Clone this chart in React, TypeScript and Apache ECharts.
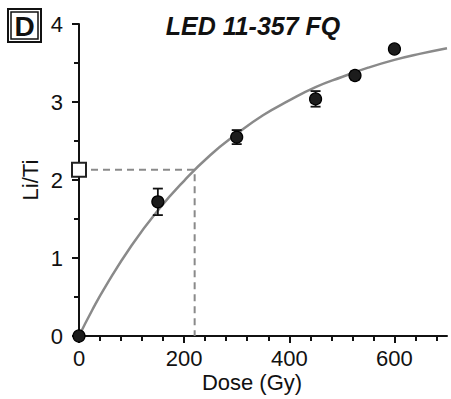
import React, { useEffect, useRef } from "react";
import * as echarts from "echarts";

// Measured Li/Ti ratios with their error bars
const doses = [0, 150, 300, 450, 525, 600];
const ratios = [0, 1.72, 2.55, 3.04, 3.34, 3.68];
const errors = [0, 0.17, 0.09, 0.1, 0.05, 0.03];

// Fitted dose-response curve
const curveDose = [0, 25, 50, 100, 150, 200, 250, 300, 350, 400, 450, 500, 550, 600, 650, 700];
const curveRatio = [0, 0.33, 0.63, 1.16, 1.61, 1.99, 2.32, 2.59, 2.83, 3.02, 3.19, 3.32, 3.44, 3.54, 3.62, 3.69];

// Natural signal projected onto the curve
const naturalRatio = 2.13;
const equivalentDose = 220;

const xMajorTicks = [0, 200, 400, 600];
const xMinorTicks = [40, 80, 120, 160, 240, 280, 320, 360, 440, 480, 520, 560, 640, 680];
const yMajorTicks = [0, 1, 2, 3, 4];
const yMinorTicks = [0.5, 1.5, 2.5, 3.5];

const FONT = "'Liberation Sans', Arial, sans-serif";
const INK = "#111111";

export default function App() {
  const ref = useRef<HTMLDivElement>(null);

  useEffect(() => {
    if (!ref.current) return;
    const chart = echarts.init(ref.current, null, { renderer: "svg" });

    const axisLine = { lineStyle: { color: INK, width: 2 } };
    const baseX = { type: "value", min: 0, max: 700, splitLine: { show: false } };
    const baseY = { type: "value", min: 0, max: 4, interval: 1, splitLine: { show: false } };

    chart.setOption({
      animation: false,
      backgroundColor: "#ffffff",
      grid: { left: 79, right: 4, top: 24, bottom: 63 },
      xAxis: [
        {
          ...baseX,
          axisLine,
          axisTick: { customValues: xMajorTicks, length: 7, lineStyle: { color: INK, width: 2 } },
          axisLabel: {
            customValues: xMajorTicks,
            margin: 11,
            color: INK,
            fontFamily: FONT,
            fontSize: 22,
          },
        },
        {
          ...baseX,
          position: "bottom",
          axisLine: { show: false },
          axisTick: { customValues: xMinorTicks, length: 5, lineStyle: { color: INK, width: 2 } },
          axisLabel: { show: false },
        },
      ],
      yAxis: [
        {
          ...baseY,
          axisLine,
          axisTick: { customValues: yMajorTicks, length: 7, lineStyle: { color: INK, width: 2 } },
          axisLabel: {
            customValues: yMajorTicks,
            margin: 16,
            color: INK,
            fontFamily: FONT,
            fontSize: 22,
          },
        },
        {
          ...baseY,
          position: "left",
          axisLine: { show: false },
          axisTick: { customValues: yMinorTicks, length: 5, lineStyle: { color: INK, width: 2 } },
          axisLabel: { show: false },
        },
      ],
      graphic: [
        { type: "rect", shape: { x: 8, y: 9, width: 33, height: 33 }, style: { fill: "#fff", stroke: INK, lineWidth: 2 } },
        { type: "rect", shape: { x: 11, y: 12, width: 27, height: 27 }, style: { fill: "none", stroke: INK, lineWidth: 1.5 } },
        {
          type: "text",
          x: 24.5,
          y: 26,
          style: { text: "D", font: `bold 28px ${FONT}`, fill: INK, align: "center", verticalAlign: "middle" },
        },
        {
          type: "text",
          x: 253,
          y: 26,
          style: {
            text: "LED 11-357 FQ",
            font: `italic bold 25px ${FONT}`,
            fill: INK,
            align: "center",
            verticalAlign: "middle",
          },
        },
        {
          type: "text",
          x: 30,
          y: 180,
          rotation: Math.PI / 2,
          style: { text: "Li/Ti", font: `22px ${FONT}`, fill: INK, align: "center", verticalAlign: "middle" },
        },
        {
          type: "text",
          x: 252,
          y: 382,
          style: { text: "Dose (Gy)", font: `22px ${FONT}`, fill: INK, align: "center", verticalAlign: "middle" },
        },
      ],
      series: [
        {
          type: "line",
          data: curveDose.map((d, i) => [d, curveRatio[i]]),
          smooth: true,
          symbol: "none",
          lineStyle: { color: "#8a8a8a", width: 2.5 },
          z: 2,
        },
        {
          type: "line",
          data: [
            [0, naturalRatio],
            [equivalentDose, naturalRatio],
            [equivalentDose, 0],
          ],
          symbol: "none",
          lineStyle: { color: "#8a8a8a", width: 2, type: [7, 5] },
          z: 2,
        },
        {
          type: "custom",
          clip: false,
          data: doses.map((d, i) => [d, ratios[i] - errors[i], ratios[i] + errors[i]]),
          renderItem: (_params: any, api: any) => {
            const lo = api.coord([api.value(0), api.value(1)]);
            const hi = api.coord([api.value(0), api.value(2)]);
            const w = 5;
            const style = { stroke: INK, lineWidth: 1.8 };
            return {
              type: "group",
              children: [
                { type: "line", shape: { x1: lo[0], y1: lo[1], x2: hi[0], y2: hi[1] }, style },
                { type: "line", shape: { x1: lo[0] - w, y1: lo[1], x2: lo[0] + w, y2: lo[1] }, style },
                { type: "line", shape: { x1: hi[0] - w, y1: hi[1], x2: hi[0] + w, y2: hi[1] }, style },
              ],
            };
          },
          z: 3,
        },
        {
          type: "scatter",
          clip: false,
          data: doses.map((d, i) => [d, ratios[i]]),
          symbol: "circle",
          symbolSize: 12,
          itemStyle: { color: "#1c1c1c", borderColor: "#000", borderWidth: 1.2, opacity: 1 },
          z: 4,
        },
        {
          type: "scatter",
          clip: false,
          data: [[0, naturalRatio]],
          symbol: "rect",
          symbolSize: 14,
          itemStyle: { color: "#ffffff", borderColor: "#222", borderWidth: 2, opacity: 1 },
          z: 5,
        },
      ],
    });

    return () => chart.dispose();
  }, []);

  return (
    <div
      ref={ref}
      style={{ position: "absolute", left: 0, top: 0, width: 451, height: 399 }}
    />
  );
}
